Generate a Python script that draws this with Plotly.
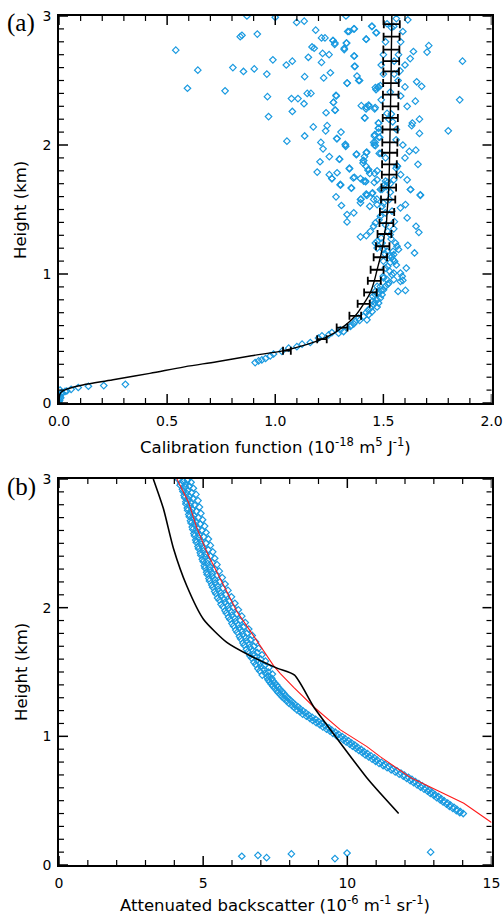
import plotly.graph_objects as go

# ---------------- Panel (a) data ----------------
cal_points = [
    (0.0,0.01),(0.002,0.03),(0.004,0.05),(0.005,0.10),(0.012,0.08),(0.015,0.075),(0.028,0.09),(0.036,0.093),
    (0.056,0.106),(0.089,0.12),(0.136,0.13),(0.207,0.135),(0.307,0.145),(0.003,0.02),(0.008,0.04),(0.001,0.065),
    (0.907,0.313),(0.923,0.326),(0.938,0.334),(0.955,0.345),(0.977,0.365),(0.992,0.38),(1.031,0.40),(1.062,0.425),
    (1.10,0.437),(1.124,0.456),(1.162,0.469),(1.20,0.503),(1.216,0.52),(1.247,0.528),(1.262,0.546),(1.293,0.541),
    (1.301,0.567),(1.316,0.554),(1.332,0.588),(1.347,0.593),(1.363,0.614),(1.37,0.632),(1.386,0.658),(1.409,0.671),
    (1.424,0.645),(1.432,0.684),(1.448,0.709),(1.44,0.736),(1.455,0.762),(1.471,0.744),(1.478,0.775),(1.486,0.813),
    (1.471,0.80),(1.494,0.839),(1.463,0.839),(1.501,0.878),(1.471,0.904),(1.509,0.904),(1.525,0.93),(1.517,0.956),
    (1.548,0.956),(1.54,0.995),(1.579,0.943),(1.59,0.951),(1.602,0.873),(1.568,0.865),(1.587,0.982),(1.548,1.007),
    (1.579,1.007),(1.606,1.046),(1.509,1.046),(1.499,0.982),(1.501,0.969),(1.463,0.865),(1.478,0.852),(1.452,0.826),
    (1.486,0.904),(1.552,1.098),(1.545,1.111),(1.532,1.09),(1.54,1.137),(1.545,1.176),(1.548,1.15),(1.563,1.215),
    (1.517,1.176),(1.499,1.189),(1.506,1.158),(1.471,1.201),(1.463,1.24),(1.471,1.253),(1.494,1.24),(1.556,1.24),
    (1.613,1.222),(1.644,1.163),(1.548,1.35),(1.532,1.305),(1.536,1.272),(1.44,1.331),(1.394,1.288),(1.421,1.298),
    (1.455,1.37),(1.463,1.396),(1.551,1.406),(1.579,1.513),(1.61,1.435),(1.602,1.538),(1.651,1.37),(1.664,1.323),
    (1.671,1.614),(1.625,1.655),(1.332,1.404),(1.332,1.461),(1.363,1.474),(1.306,1.531),(1.281,1.598),(1.301,1.694),
    (1.352,1.668),(1.394,1.552),(1.394,1.578),(1.424,1.609),(1.437,1.525),(1.448,1.624),(1.42,1.616),(1.455,1.578),
    (1.471,1.538),(1.494,1.525),(1.486,1.448),(1.509,1.474),(1.54,1.487),(1.528,1.578),(1.506,1.694),(1.494,1.655),
    (1.532,1.634),(1.35,0.60),(1.39,0.64),(1.42,0.70),(1.43,0.72),(1.46,0.78),(1.45,0.79),(1.49,0.87),(1.52,0.92),
    (1.53,1.02),(1.52,1.06),(1.56,1.07),(1.50,1.10),(1.53,1.14),(1.57,1.19),(1.49,1.28),(1.52,1.33),(1.51,1.38),
    (1.48,1.42),(1.50,1.55),(1.47,1.58),
    (0.54,2.735),(0.642,2.58),(0.594,2.44),(0.804,2.60),(0.768,2.42),(0.838,2.84),(0.846,2.85),(0.853,2.57),
    (0.903,2.59),(0.917,2.86),(0.869,3.0),(0.961,2.55),(0.964,2.375),(0.969,2.22),(0.989,2.66),(1.0,2.99),
    (1.051,2.62),(1.079,2.65),(1.075,2.36),(1.079,2.26),(1.099,2.95),(1.105,2.36),(1.054,2.03),(1.134,2.96),
    (1.136,2.53),(1.133,2.32),(1.136,2.07),(1.153,2.68),(1.148,2.40),(1.165,2.40),(1.17,2.76),(1.18,2.75),
    (1.176,2.14),(1.187,2.89),(1.214,2.64),(1.219,2.71),(1.214,2.83),(1.23,2.83),(1.224,2.52),(1.235,2.25),
    (1.24,2.15),(1.233,2.11),(1.211,2.02),(1.221,1.97),(1.249,2.70),(1.255,2.56),(1.267,2.81),(1.275,2.78),
    (1.269,2.33),(1.276,2.27),(1.284,2.05),(1.25,1.91),(1.207,1.87),(1.194,1.79),(1.25,1.77),(1.262,1.74),
    (1.281,2.385),(1.304,2.10),(1.298,1.89),(1.286,1.785),(1.302,1.69),(1.319,2.75),(1.33,2.79),(1.327,3.0),
    (1.324,2.005),(1.326,1.99),(1.332,2.48),(1.341,2.88),(1.363,2.90),(1.364,2.69),(1.366,2.61),(1.378,2.535),
    (1.386,2.50),(1.375,1.925),(1.343,1.815),(1.361,1.745),(1.398,2.305),(1.409,1.88),(1.406,1.86),(1.413,2.21),
    (1.421,2.82),(1.42,2.28),(1.418,1.715),(1.423,1.945),(1.429,1.805),(1.434,2.30),(1.448,2.92),(1.466,2.87),
    (1.463,2.445),(1.46,2.28),(1.46,2.08),(1.455,2.02),(1.463,1.995),(1.458,1.71),(1.437,1.78),(1.477,2.45),
    (1.477,2.17),(1.477,2.13),(1.48,2.06),(1.481,1.935),(1.471,1.73),
    (1.866,2.65),(1.853,2.35),(1.80,2.11),(1.71,2.77),(1.702,2.72),(1.639,2.725),(1.624,2.67),(1.654,2.49),
    (1.677,2.455),(1.648,2.34),(1.667,2.20),(1.634,2.17),(1.631,2.15),(1.667,2.09),(1.62,1.95),(1.65,1.96),
    (1.66,1.85),(1.61,1.73),(1.626,1.655),(1.671,1.61),(1.613,2.97),(1.58,2.80),(1.577,2.575),(1.568,2.50),
    (1.559,2.04),(1.565,1.835),(1.548,1.73),(1.532,1.70),(1.52,1.71),(1.514,1.68),(1.537,2.91),(1.517,2.94),
    (1.548,2.92),(1.532,2.41),(1.537,2.24),(1.517,2.245),(1.526,2.20),(1.543,2.18),(1.563,1.84),(1.559,1.82),
    (1.51,1.72),(1.486,2.46),(1.475,2.445),(1.466,2.43),(1.462,2.29),(1.432,2.31),(1.421,2.295),(1.415,2.21),
    (1.478,2.17),(1.478,2.13),(1.478,2.10),(1.483,2.06),(1.458,2.07),(1.462,2.02),(1.458,2.00),(1.489,1.935),
    (1.471,1.80),(1.413,1.91),(1.407,1.88),(1.376,1.93),(1.421,1.94),(1.432,1.81),(1.46,1.78),(1.417,1.72),
    (1.421,1.62),(1.45,1.63),(1.486,1.655),(1.397,1.58),(1.335,2.88),(1.366,2.90),(1.267,2.81),(1.276,2.79),
    (1.329,2.79),(1.319,2.74),(1.42,2.82),(1.446,2.92),(1.468,2.87),(1.366,2.69),(1.369,2.61),(1.39,2.50),
    (1.333,2.48),(1.282,2.38),(1.269,2.33),(1.278,2.27),(1.286,2.05),(1.324,2.00),(1.42,1.835),(1.296,1.89),
    (1.343,1.82),(1.366,1.75),(1.394,1.74),(1.409,1.72),(1.262,1.74),(1.301,1.69),(1.352,1.665),
    (1.56,2.98),(1.59,2.88),(1.57,2.70),(1.60,2.62),(1.55,2.55),(1.58,2.38),(1.61,2.30),(1.56,2.12),(1.59,2.00),
    (1.60,1.90),(1.58,1.77),(1.55,2.65),(1.60,2.45),(1.50,2.55),(1.49,2.62),(1.51,2.80),(1.50,2.70),(1.49,2.35),
    (1.51,1.90),
]
cal_scatter_x = [p[0] for p in cal_points]
cal_scatter_h = [p[1] for p in cal_points]

cal_line_h = [0, 0.03, 0.06, 0.08, 0.10, 0.12, 0.14, 0.18, 0.23, 0.28, 0.32, 0.366, 0.406, 0.45, 0.495, 0.54,
              0.585, 0.63, 0.676, 0.769, 0.857, 0.947, 1.033, 1.13, 1.215, 1.31, 1.395, 1.48, 1.577, 1.67,
              1.85, 2.02, 2.21, 2.39, 2.57, 2.74, 2.937, 3.0]
cal_line_x = [0, 0.001, 0.003, 0.008, 0.025, 0.06, 0.11, 0.25, 0.42, 0.58, 0.73, 0.89, 1.04, 1.14, 1.216, 1.27,
              1.309, 1.343, 1.370, 1.409, 1.440, 1.458, 1.471, 1.486, 1.497, 1.505, 1.514, 1.517, 1.522, 1.525,
              1.528, 1.530, 1.532, 1.534, 1.536, 1.537, 1.539, 1.539]

err_h = [0.406, 0.495, 0.585, 0.676, 0.769, 0.857, 0.947, 1.033, 1.13, 1.215, 1.31, 1.395, 1.48, 1.577, 1.67,
         1.77, 1.85, 1.94, 2.02, 2.12, 2.21, 2.30, 2.39, 2.48, 2.57, 2.65, 2.74, 2.84, 2.937]
err_x = [1.054, 1.216, 1.309, 1.370, 1.409, 1.440, 1.458, 1.471, 1.486, 1.497, 1.505, 1.514, 1.517, 1.522, 1.525,
         1.527, 1.528, 1.529, 1.530, 1.531, 1.532, 1.533, 1.534, 1.535, 1.536, 1.536, 1.537, 1.538, 1.539]
err_dx = [0.018, 0.022, 0.025, 0.027, 0.028, 0.029, 0.030, 0.030, 0.031, 0.031, 0.032, 0.032, 0.033, 0.033, 0.034,
          0.034, 0.034, 0.035, 0.035, 0.035, 0.035, 0.036, 0.036, 0.036, 0.036, 0.037, 0.037, 0.037, 0.037]

# ---------------- Panel (b) data ----------------
bsc_points = [
    (4.15,2.995),(4.45,2.99),(4.32,2.982),(4.58,2.975),(4.22,2.968),(4.40,2.96),
    (4.20,2.952),(4.52,2.945),(4.38,2.937),(4.66,2.928),(4.28,2.92),(4.47,2.912),
    (4.30,2.903),(4.60,2.895),(4.43,2.888),(4.75,2.88),(4.34,2.872),(4.52,2.864),
    (4.36,2.855),(4.64,2.847),(4.50,2.84),(4.82,2.832),(4.40,2.824),(4.58,2.815),
    (4.40,2.806),(4.70,2.798),(4.55,2.79),(4.87,2.782),(4.45,2.774),(4.62,2.765),
    (4.46,2.757),(4.76,2.749),(4.60,2.741),(4.92,2.733),(4.50,2.725),(4.68,2.716),
    (4.52,2.707),(4.83,2.70),(4.67,2.691),(4.98,2.683),(4.56,2.675),(4.74,2.666),
    (4.58,2.658),(4.90,2.65),(4.73,2.642),(5.05,2.634),(4.62,2.626),(4.80,2.617),
    (4.64,2.608),(4.96,2.60),(4.79,2.592),(5.10,2.584),(4.68,2.576),(4.86,2.567),
    (4.70,2.558),(5.02,2.55),(4.86,2.542),(5.18,2.534),(4.74,2.526),(4.93,2.517),
    (4.76,2.508),(5.10,2.50),(4.93,2.492),(5.25,2.484),(4.82,2.476),(5.00,2.467),
    (4.84,2.458),(5.18,2.45),(5.01,2.442),(5.33,2.434),(4.90,2.426),(5.08,2.417),
    (4.92,2.408),(5.26,2.40),(5.08,2.392),(5.40,2.384),(4.97,2.376),(5.15,2.367),
    (5.00,2.358),(5.32,2.35),(5.16,2.342),(5.48,2.334),(5.04,2.326),(5.22,2.317),
    (5.06,2.308),(5.40,2.30),(5.24,2.292),(5.56,2.284),(5.12,2.276),(5.30,2.267),
    (5.14,2.258),(5.48,2.25),(5.32,2.242),(5.66,2.234),(5.20,2.226),(5.40,2.217),
    (5.22,2.208),(5.58,2.20),(5.42,2.192),(5.76,2.184),(5.30,2.176),(5.50,2.167),
    (5.33,2.158),(5.68,2.15),(5.52,2.142),(5.86,2.134),(5.40,2.126),(5.60,2.117),
    (5.44,2.108),(5.78,2.10),(5.63,2.092),(5.98,2.084),(5.50,2.076),(5.72,2.067),
    (5.56,2.058),(5.90,2.05),(5.76,2.042),(6.10,2.034),(5.62,2.026),(5.85,2.017),
    (5.68,2.008),(6.04,2.00),(5.88,1.992),(6.22,1.984),(5.76,1.976),(5.98,1.967),
    (5.80,1.958),(6.16,1.95),(6.00,1.942),(6.34,1.934),(5.88,1.926),(6.10,1.917),
    (5.93,1.908),(6.28,1.90),(6.12,1.892),(6.46,1.884),(6.00,1.876),(6.22,1.867),
    (6.05,1.858),(6.40,1.85),(6.25,1.842),(6.58,1.834),(6.13,1.826),(6.35,1.817),
    (6.18,1.808),(6.52,1.80),(6.38,1.792),(6.70,1.784),(6.26,1.776),(6.48,1.767),
    (6.30,1.758),(6.64,1.75),(6.50,1.742),(6.82,1.734),(6.38,1.726),(6.60,1.717),
    (6.42,1.708),(6.76,1.70),(6.62,1.692),(6.92,1.684),(6.50,1.676),(6.72,1.667),
    (6.55,1.658),(6.88,1.65),(6.74,1.642),(7.04,1.634),(6.62,1.626),(6.85,1.617),
    (6.68,1.608),(7.00,1.60),(6.87,1.592),(7.16,1.584),(6.76,1.576),(6.98,1.567),
    (6.82,1.558),(7.12,1.55),(7.00,1.542),(7.28,1.534),(6.90,1.526),(7.12,1.517),
    (6.96,1.508),(7.26,1.50),(7.15,1.492),(7.40,1.484),(7.05,1.476),(7.28,1.467),
    (7.22,1.458),(7.38,1.45),(7.25,1.44),(7.42,1.432),(7.30,1.424),(7.48,1.415),(7.36,1.406),(7.55,1.398),
    (7.42,1.39),(7.60,1.382),(7.48,1.373),(7.66,1.365),(7.55,1.356),(7.74,1.348),(7.60,1.34),(7.80,1.332),
    (7.68,1.323),(7.86,1.315),(7.74,1.306),(7.94,1.298),(7.82,1.29),(8.02,1.282),(7.90,1.273),(8.10,1.265),
    (7.98,1.256),(8.18,1.248),(8.08,1.24),(8.28,1.232),(8.16,1.223),(8.36,1.215),(8.25,1.206),(8.46,1.198),
    (8.36,1.19),(8.56,1.182),(8.45,1.173),(8.66,1.165),(8.58,1.156),(8.78,1.148),(8.70,1.14),(8.90,1.132),
    (8.80,1.123),(9.00,1.115),(8.92,1.106),(9.12,1.098),(9.04,1.09),(9.24,1.082),(9.15,1.073),(9.36,1.065),
    (9.28,1.056),(9.46,1.048),(9.40,1.04),(9.58,1.032),(9.50,1.023),(9.70,1.015),(9.62,1.006),(9.82,0.998),
    (9.74,0.99),(9.92,0.982),(9.86,0.973),(10.04,0.965),(9.96,0.956),(10.15,0.948),(10.08,0.94),(10.26,0.932),
    (10.18,0.923),(10.36,0.915),(10.30,0.906),(10.48,0.898),(10.40,0.89),(10.58,0.882),(10.52,0.873),(10.70,0.865),
    (10.62,0.856),(10.82,0.848),(10.74,0.84),(10.94,0.832),(10.86,0.823),(11.04,0.815),(10.98,0.806),(11.18,0.798),
    (11.10,0.79),(11.30,0.782),(11.24,0.773),(11.44,0.765),(11.38,0.756),(11.58,0.748),(11.52,0.74),(11.72,0.732),
    (11.66,0.723),(11.86,0.715),(11.80,0.706),(11.98,0.698),(11.94,0.69),(12.12,0.682),(12.06,0.673),(12.24,0.665),
    (12.18,0.656),(12.36,0.648),(12.30,0.64),(12.48,0.632),(12.42,0.623),(12.60,0.615),(12.54,0.606),(12.72,0.598),
    (12.66,0.59),(12.84,0.582),(12.78,0.573),(12.94,0.565),(12.88,0.556),(13.04,0.548),(13.00,0.54),(13.16,0.532),
    (13.10,0.523),(13.26,0.515),(13.22,0.506),(13.36,0.498),(13.32,0.49),(13.48,0.482),(13.44,0.473),(13.58,0.465),
    (13.54,0.456),(13.70,0.448),(13.66,0.44),(13.80,0.432),(13.78,0.423),(13.92,0.415),(13.90,0.406),(14.02,0.40),
    (6.34,0.068),(6.90,0.075),(7.20,0.057),(8.06,0.086),(9.57,0.050),(9.99,0.093),(12.89,0.100),
]
bsc_scatter_x = [p[0] for p in bsc_points]
bsc_scatter_h = [p[1] for p in bsc_points]

red_x = [4.09, 4.49, 4.78, 5.13, 5.47, 5.82, 6.17, 6.63, 7.09, 7.44, 7.67, 8.14, 8.83, 9.41, 9.76, 10.68,
         11.15, 12.19, 13.23, 14.04, 15.0]
red_h = [3.0, 2.82, 2.62, 2.43, 2.28, 2.12, 1.97, 1.82, 1.67, 1.55, 1.49, 1.38, 1.23, 1.12, 1.05, 0.92,
         0.84, 0.68, 0.57, 0.48, 0.33]

blk_x = [3.27, 3.62, 3.97, 4.43, 5.01, 5.82, 6.60, 7.56, 8.17, 8.83, 9.52, 10.74, 11.78]
blk_h = [3.0, 2.77, 2.46, 2.17, 1.91, 1.73, 1.63, 1.53, 1.475, 1.23, 1.02, 0.66, 0.40]

# tick positions (axis decoration)
x_ticks_a = [round(0.1 * i, 1) for i in range(21)]      # major every 0.5
x_ticks_b = list(range(16))                              # major every 5
y_ticks = [round(0.1 * i, 1) for i in range(31)]         # major every 1

# ---------------- Figure ----------------
BLUE = "#1a9ae0"
W, H = 503, 918
TICKFONT = dict(family="DejaVu Sans", size=14, color="black")
MARK = dict(symbol="diamond-open", size=5, color=BLUE, line=dict(width=1.2, color=BLUE))

fig = go.Figure()
fig.add_trace(go.Scatter(x=cal_scatter_x, y=cal_scatter_h, mode="markers", xaxis="x", yaxis="y",
                         marker=MARK, showlegend=False))
fig.add_trace(go.Scatter(x=cal_line_x, y=cal_line_h, mode="lines", xaxis="x", yaxis="y",
                         line=dict(color="black", width=1.4, shape="spline"), showlegend=False))
fig.add_trace(go.Scatter(x=err_x, y=err_h, mode="markers", xaxis="x", yaxis="y",
                         marker=dict(size=1, color="black"),
                         error_x=dict(type="data", array=err_dx, visible=True, color="black", thickness=1.8, width=4),
                         showlegend=False))

fig.add_trace(go.Scatter(x=bsc_scatter_x, y=bsc_scatter_h, mode="markers", xaxis="x2", yaxis="y2",
                         marker=MARK, showlegend=False))
fig.add_trace(go.Scatter(x=red_x, y=red_h, mode="lines", xaxis="x2", yaxis="y2",
                         line=dict(color="#ff1a1a", width=1.1), showlegend=False))
fig.add_trace(go.Scatter(x=blk_x, y=blk_h, mode="lines", xaxis="x2", yaxis="y2",
                         line=dict(color="black", width=1.6, shape="spline", smoothing=0.6), showlegend=False))

L, R = 59, 491.5
TOP_A, BOT_A = 16, 403
TOP_B, BOT_B = 479, 865
x0, x1 = L / W, R / W


def axis(**kw):
    d = dict(showline=True, linecolor="black", linewidth=1.6, mirror=True, ticks="",
             showgrid=False, zeroline=False, tickfont=TICKFONT, automargin=False)
    d.update(kw)
    return d


fig.update_layout(
    template="none",
    width=W, height=H, margin=dict(l=0, r=0, t=0, b=0),
    paper_bgcolor="white", plot_bgcolor="white",
    xaxis=axis(domain=[x0, x1], anchor="y", range=[0, 2], tick0=0, dtick=0.5, tickformat=".1f",
               ticklabelstandoff=4),
    yaxis=axis(domain=[1 - BOT_A / H, 1 - TOP_A / H], anchor="x", range=[0, 3], tick0=0, dtick=1,
               ticklabelstandoff=3),
    xaxis2=axis(domain=[x0, x1], anchor="y2", range=[0, 15], tick0=0, dtick=5, ticklabelstandoff=4),
    yaxis2=axis(domain=[1 - BOT_B / H, 1 - TOP_B / H], anchor="x2", range=[0, 3], tick0=0, dtick=1,
                ticklabelstandoff=3),
)

# tick marks drawn as shapes (inside, mirrored on all four sides)
MAJ, MIN = 9, 5
pw = R - L
shapes = []


def add_xticks(xref, yref, vals, major_every, ph):
    for i, v in enumerate(vals):
        ln = (MAJ if i % major_every == 0 else MIN) / ph
        w = 1.5 if i % major_every == 0 else 1.2
        for a, b in ((0, ln), (1, 1 - ln)):
            shapes.append(dict(type="line", xref=xref, yref=yref + " domain", x0=v, x1=v, y0=a, y1=b,
                               line=dict(color="black", width=w), layer="above"))


def add_yticks(xref, yref, vals, major_every):
    for i, v in enumerate(vals):
        ln = (MAJ if i % major_every == 0 else MIN) / pw
        w = 1.5 if i % major_every == 0 else 1.2
        for a, b in ((0, ln), (1, 1 - ln)):
            shapes.append(dict(type="line", xref=xref + " domain", yref=yref, x0=a, x1=b, y0=v, y1=v,
                               line=dict(color="black", width=w), layer="above"))


add_xticks("x", "y", x_ticks_a, 5, BOT_A - TOP_A)
add_yticks("x", "y", y_ticks, 10)
add_xticks("x2", "y2", x_ticks_b, 5, BOT_B - TOP_B)
add_yticks("x2", "y2", y_ticks, 10)
fig.update_layout(shapes=shapes)

cx = (L + R) / 2 / W
TITLEFONT = dict(family="DejaVu Sans", size=16.5, color="black")
annots = [
    dict(text="Calibration function (10<sup>-18</sup> m<sup>5</sup> J<sup>-1</sup>)", x=cx, y=1 - 446 / H,
         yanchor="middle", font=TITLEFONT),
    dict(text="Attenuated backscatter (10<sup>-6</sup> m<sup>-1</sup> sr<sup>-1</sup>)", x=cx, y=1 - 917 / H,
         yanchor="bottom", font=TITLEFONT),
    dict(text="Height (km)", x=21 / W, y=1 - 210 / H, textangle=-90, yanchor="middle", font=TITLEFONT),
    dict(text="Height (km)", x=21 / W, y=1 - 672 / H, textangle=-90, yanchor="middle", font=TITLEFONT),
    dict(text="(a)", x=21 / W, y=1 - 23 / H, yanchor="middle",
         font=dict(family="Liberation Serif", size=25, color="black")),
    dict(text="(b)", x=21 / W, y=1 - 487 / H, yanchor="middle",
         font=dict(family="Liberation Serif", size=25, color="black")),
]
for a in annots:
    fig.add_annotation(xref="paper", yref="paper", showarrow=False, xanchor="center", **a)

fig.write_html("out.html")
